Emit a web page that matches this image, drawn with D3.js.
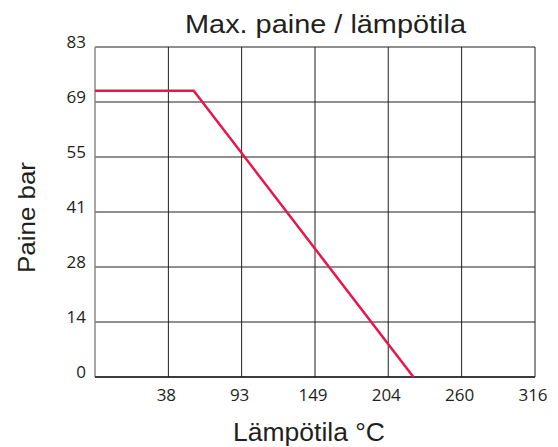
<!DOCTYPE html>
<html>
<head>
<meta charset="utf-8">
<script src="https://cdn.jsdelivr.net/npm/d3@7"></script>
<style>
  body { margin: 0; background: #fff; }
  svg { display: block; }
</style>
</head>
<body>
<div id="chart"></div>
<script>
// Chart data
const title = "Max. paine / lämpötila";
const xLabel = "Lämpötila °C";
const yLabel = "Paine bar";

const xTickValues = [-17.8, 37.8, 93.3, 148.9, 204.4, 260, 315.6];
const xTickLabels = ["", "38", "93", "149", "204", "260", "316"];
const yTickValues = [0, 13.79, 27.58, 41.37, 55.16, 68.95, 82.74];
const yTickLabels = ["0", "14", "28", "41", "55", "69", "83"];

const tempC = [-17.8, 57, 223.5];
const pressureBar = [71.8, 71.8, 0];

const width = 558, height = 447;
const margin = { top: 47, right: 23, bottom: 70, left: 95 };
const innerW = width - margin.left - margin.right;
const innerH = height - margin.top - margin.bottom;

const svg = d3.select("#chart")
    .append("svg")
    .attr("width", width)
    .attr("height", height);

const x = d3.scaleLinear().domain([-17.8, 315.6]).range([0, innerW]);
const y = d3.scaleLinear().domain([0, 82.74]).range([innerH, 0]);

const g = svg.append("g").attr("transform", `translate(${margin.left},${margin.top})`);

// Grid lines
g.selectAll(".vgrid")
    .data(xTickValues.slice(1))
    .enter().append("line")
    .attr("x1", d => x(d)).attr("x2", d => x(d))
    .attr("y1", 0).attr("y2", innerH)
    .attr("stroke", "#231f20").attr("stroke-width", 1);

g.selectAll(".hgrid")
    .data(yTickValues)
    .enter().append("line")
    .attr("x1", 0).attr("x2", innerW)
    .attr("y1", d => y(d)).attr("y2", d => y(d))
    .attr("stroke", "#231f20").attr("stroke-width", 1);

// Left axis line
g.append("line")
    .attr("x1", 0).attr("x2", 0)
    .attr("y1", 0).attr("y2", innerH)
    .attr("stroke", "#8a8a8a").attr("stroke-width", 1.5);

// Bottom axis line
g.append("line")
    .attr("x1", 0).attr("x2", innerW)
    .attr("y1", innerH).attr("y2", innerH)
    .attr("stroke", "#231f20").attr("stroke-width", 1.5);

// Tick labels
const tickFont = "'Open Sans', 'Noto Sans', sans-serif";
g.selectAll(".ylab")
    .data(yTickValues)
    .enter().append("text")
    .attr("x", -9)
    .attr("y", d => y(d) + 1)
    .attr("text-anchor", "end")
    .attr("font-family", tickFont)
    .attr("font-size", 17)
    .attr("fill", "#231f20")
    .text((d, i) => yTickLabels[i]);

g.selectAll(".xlab")
    .data(xTickValues)
    .enter().append("text")
    .attr("x", d => x(d) - 2)
    .attr("y", innerH + 24)
    .attr("text-anchor", "middle")
    .attr("font-family", tickFont)
    .attr("font-size", 17)
    .attr("fill", "#231f20")
    .text((d, i) => xTickLabels[i]);

// Data line
const line = d3.line()
    .x(d => x(d[0]))
    .y(d => y(d[1]));

g.append("path")
    .datum(tempC.map((t, i) => [t, pressureBar[i]]))
    .attr("d", line)
    .attr("fill", "none")
    .attr("stroke", "#e8174b")
    .attr("stroke-width", 2.5);

// Title and axis labels
const labelFont = "'Liberation Sans', Arial, sans-serif";
svg.append("text")
    .attr("x", 185)
    .attr("y", 33)
    .attr("font-family", labelFont)
    .attr("font-size", 25)
    .attr("textLength", 281)
    .attr("lengthAdjust", "spacingAndGlyphs")
    .attr("fill", "#231f20")
    .text(title);

svg.append("text")
    .attr("x", 233)
    .attr("y", 441)
    .attr("font-family", labelFont)
    .attr("font-size", 25)
    .attr("textLength", 152)
    .attr("lengthAdjust", "spacingAndGlyphs")
    .attr("fill", "#231f20")
    .text(xLabel);

svg.append("text")
    .attr("transform", `translate(35,273) rotate(-90)`)
    .attr("font-family", labelFont)
    .attr("font-size", 24)
    .attr("textLength", 111)
    .attr("lengthAdjust", "spacingAndGlyphs")
    .attr("fill", "#231f20")
    .text(yLabel);
</script>
</body>
</html>
